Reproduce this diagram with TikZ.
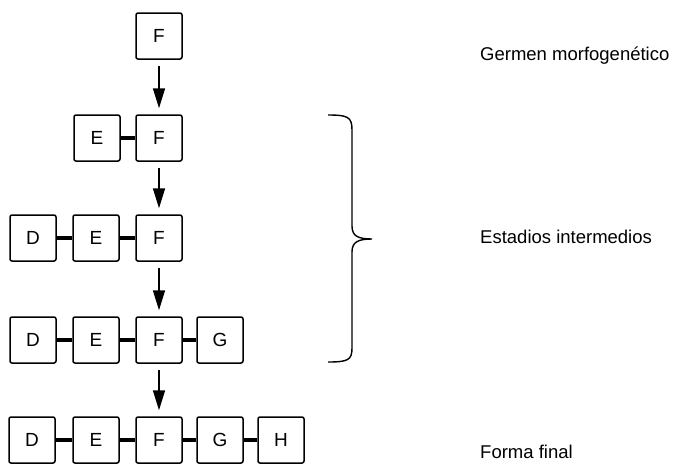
\documentclass[tikz,border=0pt]{standalone}
\usepackage{fontspec}
\setmainfont{Liberation Sans}
\usetikzlibrary{arrows.meta}
\begin{document}
\begin{tikzpicture}[x=1pt,y=-1pt,
  box/.style={draw,line width=1.5pt,rounded corners=2pt,minimum width=46pt,minimum height=46pt,inner sep=0pt,font=\fontsize{19}{19}\selectfont},
  link/.style={line width=3.2pt},
  flow/.style={line width=1.6pt,-{Triangle[length=20pt,width=12pt]},shorten <=6pt,shorten >=6pt},
  label/.style={anchor=base west,inner sep=0pt,font=\fontsize{18.5}{18.5}\selectfont},
  bracestyle/.style={line width=1.4pt}]
\useasboundingbox (0,0) rectangle (675,464);
% row 1
\node[box] (aF) at (159,36) {F};
% row 2
\node[box] (bE) at (97,138) {E};
\node[box] (bF) at (159,138) {F};
% row 3
\node[box] (cD) at (33,238) {D};
\node[box] (cE) at (96,238) {E};
\node[box] (cF) at (159,238) {F};
% row 4
\node[box] (dD) at (33,340) {D};
\node[box] (dE) at (96,340) {E};
\node[box] (dF) at (159,340) {F};
\node[box] (dG) at (220,340) {G};
% row 5
\node[box] (eD) at (32,440) {D};
\node[box] (eE) at (96,440) {E};
\node[box] (eF) at (159,440) {F};
\node[box] (eG) at (220,440) {G};
\node[box] (eH) at (281,440) {H};
% links
\draw[link] (bE) -- (bF);
\draw[link] (cD) -- (cE); \draw[link] (cE) -- (cF);
\draw[link] (dD) -- (dE); \draw[link] (dE) -- (dF); \draw[link] (dF) -- (dG);
\draw[link] (eD) -- (eE); \draw[link] (eE) -- (eF); \draw[link] (eF) -- (eG); \draw[link] (eG) -- (eH);
% arrows
\draw[flow] (aF) -- (bF);
\draw[flow] (bF) -- (cF);
\draw[flow] (cF) -- (dF);
\draw[flow] (dF) -- (eF);
% brace
\coordinate (bt) at (328,115);
\coordinate (btip) at (372,239);
\coordinate (bb) at (328,362);
\draw[bracestyle] (bt) .. controls (348,115) and (352,117) .. (352,130) -- (352,226)
  .. controls (352,236) and (358,239) .. (btip)
  .. controls (358,239) and (352,242) .. (352,252) -- (352,348)
  .. controls (352,360) and (348,362) .. (bb);
% labels
\node[label] (t1) at (480,60) {Germen morfogenético};
\node[label] (t2) at (480,243) {Estadios intermedios};
\node[label] (t3) at (480,458) {Forma final};
\end{tikzpicture}
\end{document}
